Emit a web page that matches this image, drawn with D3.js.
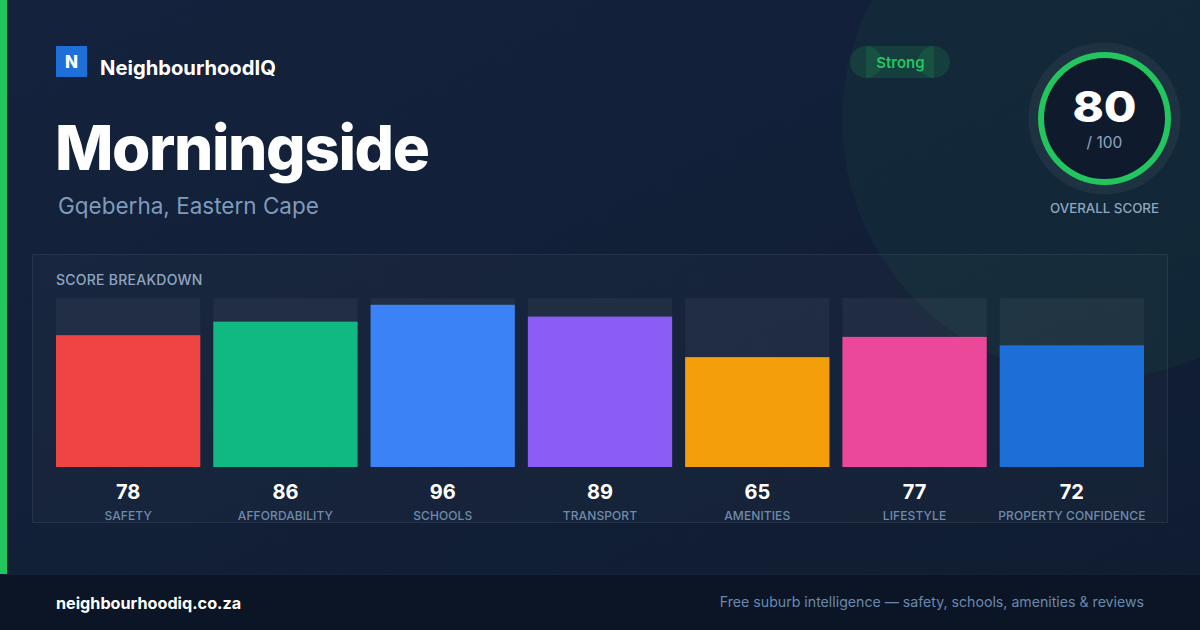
<!DOCTYPE html>
<html><head><meta charset="utf-8">
<script src="https://cdn.jsdelivr.net/npm/d3@7/dist/d3.min.js"></script>
<style>html,body{margin:0;padding:0;background:#13213b;}svg{display:block;font-family:Inter,"Noto Sans",sans-serif;}</style>
</head><body><svg id="c" width="1200" height="630"></svg>
<script>
const categories = ["SAFETY","AFFORDABILITY","SCHOOLS","TRANSPORT","AMENITIES","LIFESTYLE","PROPERTY CONFIDENCE"];
const scores = [78,86,96,89,65,77,72];
const barColors = ["#ef4444","#10b981","#3b82f6","#8b5cf6","#f59e0b","#ec4899","#1d6fd8"];
const overallScore = 80;
const overallMax = 100;
const suburb = "Morningside";
const region = "Gqeberha, Eastern Cape";
const rating = "Strong";

const svg = d3.select("#c");
const defs = svg.append("defs");
const bg = defs.append("linearGradient").attr("id","bg").attr("x1","0").attr("y1","0").attr("x2","1").attr("y2","1");
bg.append("stop").attr("offset","0").attr("stop-color","#14223d");
bg.append("stop").attr("offset","1").attr("stop-color","#0f1c31");
const pat = defs.append("pattern").attr("id","dots").attr("width",32).attr("height",32).attr("patternUnits","userSpaceOnUse").attr("x",8).attr("y",8);
pat.append("circle").attr("cx",16).attr("cy",16).attr("r",1).attr("fill","rgba(255,255,255,0.035)");

svg.append("rect").attr("width",1200).attr("height",630).attr("fill","url(#bg)");
svg.append("rect").attr("width",1200).attr("height",574).attr("fill","url(#dots)");
// big decorative circle
svg.append("circle").attr("cx",1100).attr("cy",120).attr("r",258).attr("fill","rgba(34,197,94,0.055)");
// left accent
svg.append("rect").attr("x",0).attr("y",0).attr("width",7).attr("height",574).attr("fill","#22c55e");
// footer
svg.append("rect").attr("x",0).attr("y",574).attr("width",1200).attr("height",56).attr("fill","#0b1526");
svg.append("line").attr("x1",0).attr("x2",1200).attr("y1",574.5).attr("y2",574.5).attr("stroke","#172236");
svg.append("text").attr("x",56).attr("y",609).attr("fill","#ffffff").attr("font-size",16.2).attr("font-weight",700).text("neighbourhoodiq.co.za");
svg.append("text").attr("x",1144).attr("y",607).attr("text-anchor","end").attr("fill","#6a89ad").attr("font-size",14.15).text("Free suburb intelligence — safety, schools, amenities & reviews");

// logo
svg.append("rect").attr("x",56).attr("y",46).attr("width",31).attr("height",31).attr("fill","#1f6fd9");
svg.append("text").attr("x",71.5).attr("y",68).attr("text-anchor","middle").attr("fill","#fff").attr("font-size",17).attr("font-weight",800).text("N");
svg.append("text").attr("x",100).attr("y",75).attr("fill","#fff").attr("font-size",20.2).attr("font-weight",700).text("NeighbourhoodIQ");

// title
svg.append("text").attr("x",55).attr("y",170).attr("fill","#fff").attr("font-size",62).attr("font-weight",800).attr("letter-spacing",-1.4).text(suburb);
svg.append("text").attr("x",58).attr("y",214).attr("fill","#7f9bbb").attr("font-size",22.5).text(region);

// pill
const pill = svg.append("g");
pill.append("rect").attr("x",866).attr("y",46).attr("width",68).attr("height",32).attr("fill","rgba(34,197,94,0.14)");
pill.append("circle").attr("cx",866).attr("cy",62).attr("r",16).attr("fill","rgba(34,197,94,0.14)");
pill.append("circle").attr("cx",934).attr("cy",62).attr("r",16).attr("fill","rgba(34,197,94,0.14)");
pill.append("text").attr("x",900.5).attr("y",67.5).attr("text-anchor","middle").attr("fill","#22c55e").attr("font-size",15).attr("font-weight",600).text(rating);

// score ring
const cx = 1104.5, cy = 118.5;
svg.append("circle").attr("cx",cx).attr("cy",cy).attr("r",76).attr("fill","rgba(255,255,255,0.05)");
svg.append("circle").attr("cx",cx).attr("cy",cy).attr("r",66).attr("fill","#0f1b2d");
const arc = d3.arc().innerRadius(60.5).outerRadius(66.5).startAngle(0).endAngle(2*Math.PI*Math.min(1, overallScore/overallMax/0.8));
svg.append("path").attr("transform",`translate(${cx},${cy})`).attr("d",arc()).attr("fill","#22c55e");
svg.append("text").attr("transform",`translate(${cx},122) scale(1.1,1)`).attr("text-anchor","middle").attr("fill","#fff").attr("font-size",43).attr("font-weight",800).text(overallScore);
svg.append("text").attr("x",cx).attr("y",147.5).attr("text-anchor","middle").attr("fill","#8fa6c0").attr("font-size",15.5).text("/ " + overallMax);
svg.append("text").attr("x",cx).attr("y",213).attr("text-anchor","middle").attr("fill","#8fa6c0").attr("font-size",13.3).attr("font-weight",500).text("OVERALL SCORE");

// panel
svg.append("rect").attr("x",32.5).attr("y",254.5).attr("width",1135).attr("height",268).attr("fill","rgba(255,255,255,0.025)").attr("stroke","rgba(255,255,255,0.08)");
svg.append("text").attr("x",56).attr("y",285).attr("fill","#8fa6c0").attr("font-size",14).attr("font-weight",500).attr("letter-spacing",0.25).text("SCORE BREAKDOWN");

const x = d3.scaleBand().domain(categories).range([56,1144]).paddingInner(0.0827).paddingOuter(0);
const y = d3.scaleLinear().domain([0,100]).range([467,298]);
const g = svg.append("g");
const items = categories.map((c,i)=>({c, v:scores[i], col:barColors[i]}));
g.selectAll(".track").data(items).join("rect").attr("x",d=>x(d.c)).attr("y",y(100)).attr("width",x.bandwidth()).attr("height",y(0)-y(100)).attr("fill","rgba(255,255,255,0.045)");
g.selectAll(".bar").data(items).join("rect").attr("x",d=>x(d.c)).attr("y",d=>y(d.v)).attr("width",x.bandwidth()).attr("height",d=>y(0)-y(d.v)).attr("fill",d=>d.col);
g.selectAll(".val").data(items).join("text").attr("x",d=>x(d.c)+x.bandwidth()/2).attr("y",499).attr("text-anchor","middle").attr("fill","#fff").attr("font-size",20).attr("font-weight",700).text(d=>d.v);
g.selectAll(".lab").data(items).join("text").attr("x",d=>x(d.c)+x.bandwidth()/2).attr("y",520).attr("text-anchor","middle").attr("fill","#6f8bab").attr("font-size",12).attr("font-weight",500).attr("letter-spacing",0.1).text(d=>d.c);
</script></body></html>
